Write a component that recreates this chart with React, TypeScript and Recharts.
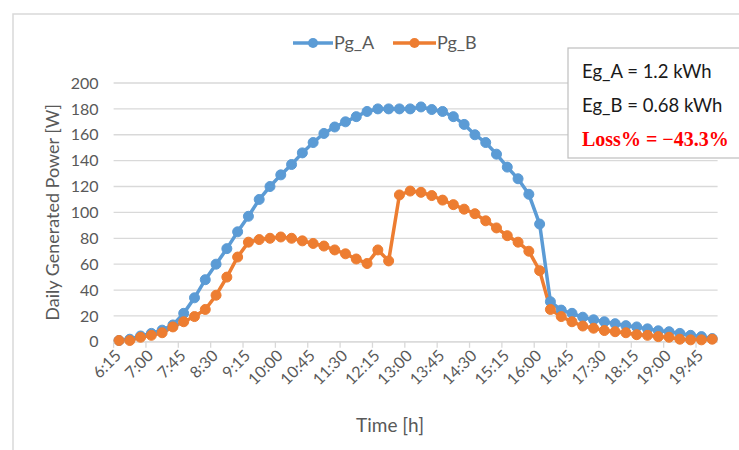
import { CartesianGrid, Line, LineChart, XAxis, YAxis } from "recharts";

const times = [
  "6:15", "6:30", "6:45", "7:00", "7:15", "7:30", "7:45", "8:00",
  "8:15", "8:30", "8:45", "9:00", "9:15", "9:30", "9:45", "10:00",
  "10:15", "10:30", "10:45", "11:00", "11:15", "11:30", "11:45", "12:00",
  "12:15", "12:30", "12:45", "13:00", "13:15", "13:30", "13:45", "14:00",
  "14:15", "14:30", "14:45", "15:00", "15:15", "15:30", "15:45", "16:00",
  "16:15", "16:30", "16:45", "17:00", "17:15", "17:30", "17:45", "18:00",
  "18:15", "18:30", "18:45", "19:00", "19:15", "19:30", "19:45", "20:00",
];

const pgA = [
  1, 2, 4.5, 6.5, 9, 13, 22, 34, 48, 60, 72, 85, 97, 110, 120, 129,
  137, 146, 154, 161, 166, 170, 174, 178, 180, 180, 180, 180, 181.5, 179.5, 178, 174,
  168, 160, 154, 145, 135, 126, 114, 91, 31, 24.5, 22, 19, 17, 15.5,
  14, 12.5, 11.5, 10, 8.5, 7.8, 6.5, 5, 4, 2.5,
];

const pgB = [
  1, 1, 3.5, 5, 7, 11.5, 15.5, 19.5, 25, 36, 50, 65.5, 77, 79, 80, 81,
  80, 78, 76, 74, 71, 68, 64, 60.5, 71, 62.5, 113.5, 116.5, 115.5, 113, 109.5, 106,
  102.5, 99, 93.5, 88, 82, 77, 70, 55, 25, 19.5, 15.5, 12.2, 10.5, 8.7,
  7.8, 7, 5.5, 5, 4, 3.5, 2, 1.5, 1.5, 2,
];

const yTicks = [0, 20, 40, 60, 80, 100, 120, 140, 160, 180, 200];

const chartData = times.map((time, i) => ({ time, pgA: pgA[i], pgB: pgB[i] }));

const WIDTH = 739;
const HEIGHT = 450;
const PLOT_LEFT = 113.6;
const PLOT_RIGHT = 717.6;
const PLOT_TOP = 83;
const PLOT_BOTTOM = 341.8;
const X_AXIS_HEIGHT = 60;
const BAND = (PLOT_RIGHT - PLOT_LEFT) / times.length;

const BLUE = "#5B9BD5";
const ORANGE = "#ED7D31";
const GRID = "#d9d9d9";
const TEXT = "#595959";
const FONT = "Lato, 'Open Sans', sans-serif";

function TimeTick({ x, y, payload }: any) {
  const tx = x + 3;
  const ty = y + 15;
  return (
    <g>
      <line
        x1={x - BAND / 2}
        x2={x - BAND / 2}
        y1={y}
        y2={y + 6}
        stroke={GRID}
        strokeWidth={1.3}
      />
      <text
        x={tx}
        y={ty}
        transform={`rotate(-45 ${tx} ${ty})`}
        textAnchor="end"
        fill={TEXT}
        fontSize={16}
        fontFamily={FONT}
      >
        {payload.value}
      </text>
    </g>
  );
}

function YTitle({ viewBox }: any) {
  const cx = viewBox.x + 38.4;
  const cy = viewBox.y + viewBox.height / 2;
  return (
    <text
      x={cx}
      y={cy}
      transform={`rotate(-90 ${cx} ${cy})`}
      textAnchor="middle"
      dominantBaseline="central"
      fill={TEXT}
      fontSize={18}
      fontFamily={FONT}
    >
      Daily Generated Power [W]
    </text>
  );
}

function XTitle({ viewBox }: any) {
  return (
    <text
      x={390}
      y={viewBox.y + 90}
      textAnchor="middle"
      fill={TEXT}
      fontSize={19}
      fontFamily={FONT}
    >
      Time [h]
    </text>
  );
}

function Overlay() {
  return (
    <svg
      width={WIDTH}
      height={HEIGHT}
      style={{ position: "absolute", left: 0, top: 0, pointerEvents: "none" }}
    >
      {/* chart frame */}
      <polyline
        points={`13,${HEIGHT + 5} 13,14 ${WIDTH + 5},14`}
        fill="none"
        stroke={GRID}
        strokeWidth={1.5}
      />

      {/* legend */}
      <g fontFamily={FONT} fontSize={18} fill={TEXT}>
        <line x1={293} x2={333} y1={43} y2={43} stroke={BLUE} strokeWidth={3.5} />
        <circle cx={313} cy={43} r={5} fill={BLUE} />
        <text x={334} y={49}>Pg_A</text>
        <line x1={393} x2={436} y1={43} y2={43} stroke={ORANGE} strokeWidth={3.5} />
        <circle cx={414.5} cy={43} r={5} fill={ORANGE} />
        <text x={437} y={49}>Pg_B</text>
      </g>

      {/* energy box */}
      <rect x={568} y={48} width={190} height={110} fill="#fff" stroke="#bfbfbf" strokeWidth={1.2} />
      <text x={582} y={78} fontFamily={FONT} fontSize={18.5} fill="#1a1a1a">
        Eg_A = 1.2 kWh
      </text>
      <text x={582} y={112} fontFamily={FONT} fontSize={18.5} fill="#1a1a1a">
        Eg_B = 0.68 kWh
      </text>
      <text
        x={582}
        y={146}
        fontFamily="'Liberation Serif', 'Times New Roman', serif"
        fontWeight="bold"
        fontSize={20}
        fill="#ff0000"
      >
        Loss% = −43.3%
      </text>
    </svg>
  );
}

export default function App() {
  return (
    <div style={{ position: "relative", width: WIDTH, height: HEIGHT, overflow: "hidden", background: "#fff" }}>
      <style>{"body{margin:0}"}</style>
      <LineChart
        width={WIDTH}
        height={HEIGHT}
        data={chartData}
        margin={{
          top: PLOT_TOP,
          right: WIDTH - PLOT_RIGHT,
          left: PLOT_LEFT - 100,
          bottom: HEIGHT - PLOT_BOTTOM - X_AXIS_HEIGHT,
        }}
      >
        <CartesianGrid vertical={false} stroke={GRID} strokeWidth={1.3} />

        <XAxis
          dataKey="time"
          interval={2}
          height={X_AXIS_HEIGHT}
          padding={{ left: BAND / 2, right: BAND / 2 }}
          axisLine={{ stroke: GRID, strokeWidth: 1.3 }}
          tickLine={false}
          tickSize={0}
          tickMargin={0}
          tick={<TimeTick />}
          label={(props: any) => <XTitle {...props} />}
        />

        <YAxis
          domain={[0, 200]}
          ticks={yTicks}
          width={100}
          axisLine={false}
          tickLine={false}
          tickSize={0}
          tickMargin={15}
          tick={{ fill: TEXT, fontSize: 16, fontFamily: FONT }}
          label={(props: any) => <YTitle {...props} />}
        />

        <Line
          type="linear"
          dataKey="pgA"
          name="Pg_A"
          stroke={BLUE}
          strokeWidth={3.5}
          dot={{ r: 5, fill: BLUE, stroke: BLUE, strokeWidth: 1 }}
          activeDot={false}
          isAnimationActive={false}
        />

        <Line
          type="linear"
          dataKey="pgB"
          name="Pg_B"
          stroke={ORANGE}
          strokeWidth={3.5}
          dot={{ r: 5, fill: ORANGE, stroke: ORANGE, strokeWidth: 1 }}
          activeDot={false}
          isAnimationActive={false}
        />
      </LineChart>
      <Overlay />
    </div>
  );
}
